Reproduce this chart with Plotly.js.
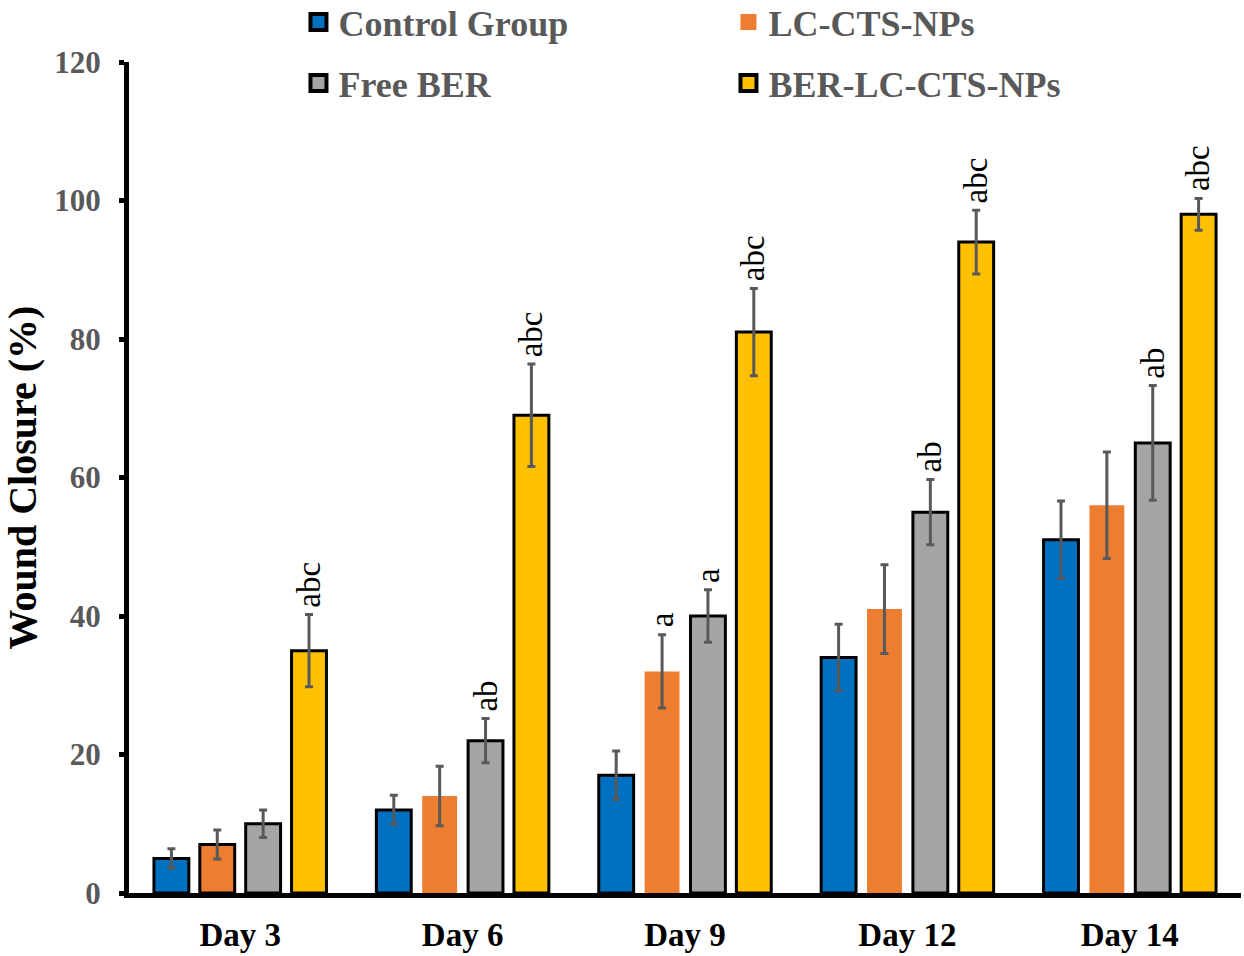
<!DOCTYPE html>
<html>
<head>
<meta charset="utf-8">
<script src="https://cdn.plot.ly/plotly-3.0.1.min.js"></script>
<style>
  html, body { margin: 0; padding: 0; background: #ffffff; }
  #chart { width: 1244px; height: 956px; }
</style>
</head>
<body>
<div id="chart"></div>
<script>
// Wound closure (%) by day for each treatment group, mean ± SD
const days = ['Day 3', 'Day 6', 'Day 9', 'Day 12', 'Day 14'];

const controlMean = [5, 12, 17, 34, 51];
const controlSD   = [1.4, 2.1, 3.5, 4.8, 5.6];

const lcMean = [7, 14, 32, 41, 56];
const lcSD   = [2.1, 4.3, 5.3, 6.4, 7.7];

const freeMean = [10, 22, 40, 55, 65];
const freeSD   = [2.0, 3.2, 3.8, 4.7, 8.3];

const berMean = [35, 69, 81, 94, 98];
const berSD   = [5.2, 7.4, 6.3, 4.6, 2.3];

// Significance letters above each bar
const controlSig = ['', '', '', '', ''];
const lcSig      = ['', '', 'a', '', ''];
const freeSig    = ['', 'ab', 'a', 'ab', 'ab'];
const berSig     = ['abc', 'abc', 'abc', 'abc', 'abc'];

const groupNames  = ['Control Group', 'LC-CTS-NPs', 'Free BER', 'BER-LC-CTS-NPs'];
const groupColors = ['#0070C0', '#ED7D31', '#A5A5A5', '#FFC000'];

const SERIF = '"Liberation Serif", "Times New Roman", serif';
const BARGAP = 0.175;
const GROUPGAP = 0.24;

const means = [controlMean, lcMean, freeMean, berMean];
const sds = [controlSD, lcSD, freeSD, berSD];
const sigs = [controlSig, lcSig, freeSig, berSig];
// outline widths per bar (orange bars are only outlined on day 3)
const outlines = [
  [3, 3, 3, 3, 3],
  [3, 0, 0, 0, 0],
  [3, 3, 3, 3, 3],
  [3, 3, 3, 3, 3]
];
const swatchOutline = [4, 0, 4, 4];

const barTraces = means.map((m, g) => ({
  type: 'bar',
  name: groupNames[g],
  showlegend: false,
  x: days,
  y: m,
  marker: {
    color: groupColors[g],
    line: { color: '#000000', width: outlines[g] }
  },
  error_y: {
    type: 'data',
    array: sds[g],
    visible: true,
    color: '#595959',
    thickness: 3,
    width: 4
  },
  hoverinfo: 'skip'
}));

// square swatches for the two-row legend (no plotted points)
const legendTraces = groupNames.map((name, g) => ({
  type: 'scatter',
  mode: 'markers',
  name: name,
  legend: g < 2 ? 'legend' : 'legend2',
  x: [days[0]],
  y: [null],
  marker: {
    symbol: 'square',
    size: 16,
    color: groupColors[g],
    line: { color: '#000000', width: swatchOutline[g] }
  },
  hoverinfo: 'skip'
}));

// place each letter above its bar's error bar
const annotations = [];
const nGroups = means.length;
const slot = (1 - BARGAP) / nGroups;
sigs.forEach((s, g) => {
  s.forEach((txt, i) => {
    if (!txt) return;
    annotations.push({
      x: i - (1 - BARGAP) / 2 + (g + 0.5) * slot,
      y: means[g][i] + sds[g][i],
      xref: 'x', yref: 'y',
      text: txt,
      textangle: -90,
      showarrow: false,
      xanchor: 'center',
      yanchor: 'bottom',
      yshift: 5,
      font: { family: SERIF, size: 33, color: '#000000' }
    });
  });
});

const legendBase = {
  orientation: 'h',
  xanchor: 'left',
  yanchor: 'middle',
  x: 0.1524,
  entrywidth: 385,
  entrywidthmode: 'pixels',
  bgcolor: 'rgba(0,0,0,0)',
  font: { family: SERIF, size: 36, color: '#595959', weight: 'bold' },
  itemclick: false,
  itemdoubleclick: false
};

const layout = {
  width: 1244,
  height: 956,
  margin: { l: 129, r: 3, t: 62, b: 63, autoexpand: false },
  paper_bgcolor: '#ffffff',
  plot_bgcolor: '#ffffff',
  barmode: 'group',
  bargap: BARGAP,
  bargroupgap: GROUPGAP,
  showlegend: true,
  legend: Object.assign({}, legendBase, { y: 1.048 }),
  legend2: Object.assign({}, legendBase, { y: 0.9747 }),
  xaxis: {
    type: 'category',
    categoryorder: 'array',
    categoryarray: days,
    range: [-0.5, 4.5],
    showline: true,
    linecolor: '#000000',
    linewidth: 5,
    ticks: '',
    showgrid: false,
    zeroline: false,
    tickfont: { family: SERIF, size: 33, color: '#000000', weight: 'bold' },
    ticklabelstandoff: 8
  },
  yaxis: {
    range: [0, 120],
    tickvals: [0, 20, 40, 60, 80, 100, 120],
    showline: true,
    linecolor: '#000000',
    linewidth: 5,
    ticks: 'outside',
    ticklen: 5,
    tickwidth: 5,
    tickcolor: '#000000',
    showgrid: false,
    zeroline: false,
    tickfont: { family: SERIF, size: 31, color: '#595959', weight: 'bold' },
    ticklabelstandoff: 12,
    title: {
      text: 'Wound Closure (%)',
      font: { family: SERIF, size: 40, color: '#000000', weight: 'bold' },
      standoff: 10
    }
  },
  annotations: annotations
};

Plotly.newPlot('chart', barTraces.concat(legendTraces), layout, { displayModeBar: false, staticPlot: true });
</script>
</body>
</html>
